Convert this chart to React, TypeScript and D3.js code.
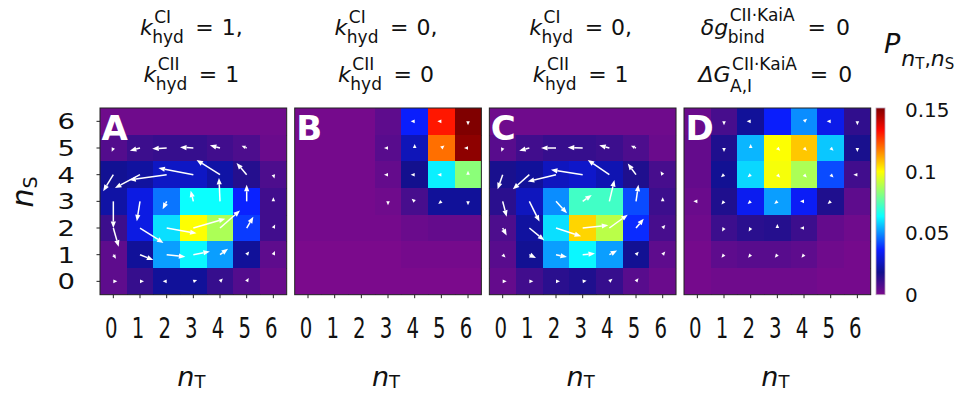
import React from 'react';
import * as d3 from 'd3';

const W = 979, H = 394;
const nTValues = [0, 1, 2, 3, 4, 5, 6];
const nSValues = [6, 5, 4, 3, 2, 1, 0]; // rows top -> bottom
const panelLetters = ['A', 'B', 'C', 'D'];
const cbTicks = [0, 0.05, 0.1, 0.15];
const cbTickLabels = ['0', '0.05', '0.1', '0.15'];
const P_MAX = 0.152;

// probabilities P(nT, nS); rows nS = 6..0, columns nT = 0..6
const probA = [
  [0.002, 0.002, 0.002, 0.002, 0.002, 0.002, 0.002],
  [0.007, 0.011, 0.012, 0.012, 0.010, 0.008, 0.003],
  [0.019, 0.021, 0.027, 0.027, 0.022, 0.015, 0.008],
  [0.022, 0.032, 0.047, 0.064, 0.064, 0.037, 0.010],
  [0.011, 0.032, 0.060, 0.100, 0.088, 0.040, 0.010],
  [0.005, 0.020, 0.052, 0.063, 0.052, 0.020, 0.005],
  [0.005, 0.012, 0.020, 0.020, 0.012, 0.007, 0.003],
];
const probB = [
  [0.001, 0.001, 0.001, 0.005, 0.036, 0.132, 0.152],
  [0.001, 0.001, 0.001, 0.006, 0.025, 0.120, 0.150],
  [0.001, 0.001, 0.001, 0.004, 0.018, 0.062, 0.083],
  [0.001, 0.001, 0.001, 0.002, 0.009, 0.020, 0.020],
  [0.001, 0.001, 0.001, 0.001, 0.003, 0.004, 0.004],
  [0.000, 0.000, 0.000, 0.000, 0.001, 0.001, 0.001],
  [0.000, 0.000, 0.000, 0.000, 0.000, 0.000, 0.000],
];
const probC = [
  [0.002, 0.002, 0.002, 0.002, 0.002, 0.002, 0.002],
  [0.006, 0.010, 0.012, 0.012, 0.011, 0.008, 0.003],
  [0.017, 0.020, 0.026, 0.028, 0.024, 0.016, 0.009],
  [0.014, 0.026, 0.050, 0.072, 0.072, 0.042, 0.011],
  [0.008, 0.021, 0.060, 0.106, 0.090, 0.038, 0.009],
  [0.006, 0.019, 0.052, 0.063, 0.052, 0.019, 0.005],
  [0.004, 0.010, 0.014, 0.016, 0.012, 0.006, 0.003],
];
const probD = [
  [0.003, 0.009, 0.020, 0.036, 0.050, 0.033, 0.013],
  [0.004, 0.016, 0.055, 0.100, 0.108, 0.057, 0.017],
  [0.004, 0.019, 0.059, 0.099, 0.088, 0.042, 0.010],
  [0.003, 0.016, 0.034, 0.052, 0.035, 0.016, 0.005],
  [0.002, 0.011, 0.014, 0.015, 0.011, 0.004, 0.002],
  [0.001, 0.005, 0.006, 0.006, 0.005, 0.002, 0.001],
  [0.001, 0.002, 0.002, 0.002, 0.002, 0.001, 0.001],
];

// probability flux [d nT, d nS] in cell units; rows nS = 6..0, columns nT = 0..6
const fluxA = [
  [[0, 0], [0, 0], [0, 0], [0, 0], [0, 0], [0, 0], [0, 0]],
  [[-0.04, -0.09], [-0.38, -0.1], [-0.54, -0.03], [-0.5, 0.03], [-0.38, 0.1], [-0.19, 0.08], [0, 0]],
  [[-0.38, -0.62], [-0.94, -0.5], [-1.4, -0.2], [-1.31, 0.25], [-0.88, 0.55], [-0.38, 0.44], [0.02, -0.07]],
  [[0, -1.0], [-0.12, -0.75], [-0.15, -0.3], [-0.1, 0.4], [-0.04, 0.88], [0, 0.62], [0, 0.08]],
  [[0.2, -0.7], [0.88, -0.56], [1.12, -0.2], [1.2, 0.35], [0.75, 0.66], [0.25, 0.42], [0.04, 0.08]],
  [[0.1, -0.15], [0.5, -0.2], [0.7, -0.08], [0.62, 0.12], [0.3, 0.22], [0.08, 0.1], [0.03, 0.07]],
  [[0.08, 0], [0.08, 0], [-0.07, 0], [0.06, 0.02], [0.05, 0.05], [0.03, 0.05], [0, 0]],
];
const fluxB = [
  [[0, 0], [0, 0], [0, 0], [0, 0], [-0.08, 0], [-0.08, 0], [0, -0.07]],
  [[0, 0], [0, 0], [0, 0], [-0.08, 0], [0, 0.07], [0.06, 0.05], [-0.08, 0]],
  [[0, 0], [0, 0], [0, 0], [-0.08, 0], [-0.08, 0], [-0.08, 0], [0, 0.07]],
  [[0, 0], [0, 0], [0, 0], [0, -0.07], [-0.06, 0.05], [-0.06, -0.05], [0, -0.07]],
  [[0, 0], [0, 0], [0, 0], [0, 0], [0, 0], [0, 0], [0, 0]],
  [[0, 0], [0, 0], [0, 0], [0, 0], [0, 0], [0, 0], [0, 0]],
  [[0, 0], [0, 0], [0, 0], [0, 0], [0, 0], [0, 0], [0, 0]],
];
const fluxC = [
  [[0, 0], [0, 0], [0, 0], [0, 0], [0, 0], [0, 0], [0, 0]],
  [[-0.03, -0.08], [-0.38, -0.1], [-0.56, 0], [-0.56, 0.02], [-0.38, 0.1], [-0.19, 0.08], [0, 0]],
  [[-0.19, -0.55], [-0.62, -0.55], [-1.06, -0.26], [-1.19, 0.18], [-0.81, 0.55], [-0.31, 0.42], [-0.05, 0.08]],
  [[0.15, -0.58], [0.38, -0.76], [0.41, -0.45], [0.34, 0.24], [0.19, 0.8], [0.09, 0.62], [0, 0.08]],
  [[0.15, -0.28], [0.56, -0.46], [0.94, -0.31], [0.96, 0.1], [0.69, 0.5], [0.29, 0.35], [0.05, 0.06]],
  [[0.09, -0.09], [0.25, -0.12], [0.41, -0.09], [0.46, 0.04], [0.29, 0.16], [0.09, 0.1], [0.05, 0.06]],
  [[0.1, 0], [0.1, 0], [0.08, 0], [0.08, 0.01], [0.05, 0.04], [0.04, 0.05], [0, 0]],
];
const fluxD = [
  [[0, 0], [0, -0.06], [-0.08, 0], [0, 0], [0.06, 0.05], [-0.08, 0], [0, -0.06]],
  [[0, 0], [0, -0.06], [0, 0.07], [0.05, -0.05], [0.05, -0.05], [0.05, -0.05], [0, -0.06]],
  [[0, 0], [-0.06, -0.05], [-0.06, -0.05], [0.05, -0.05], [0.05, -0.05], [0.05, -0.05], [-0.08, 0]],
  [[-0.08, 0], [-0.05, -0.06], [-0.06, -0.05], [-0.06, -0.05], [-0.08, 0], [-0.06, -0.05], [0, 0]],
  [[0, 0], [-0.04, -0.07], [-0.04, -0.07], [0, 0.07], [-0.08, 0], [0, 0], [0, 0]],
  [[0, 0], [-0.05, -0.06], [-0.05, -0.06], [-0.05, -0.06], [-0.05, -0.06], [0, 0], [0, 0]],
  [[0, 0], [0, 0], [0, 0], [0, 0], [0, 0], [0, 0], [0, 0]],
];

const probs = [probA, probB, probC, probD];
const fluxes = [fluxA, fluxB, fluxC, fluxD];

type Piece = { text?: string; italic?: boolean; sup?: string; sub?: string; gap?: number };
const titleLine1: Piece[][] = [
  [{ text: 'k', italic: true }, { sup: 'CI', sub: 'hyd' }, { gap: 11 }, { text: '=' }, { gap: 8 }, { text: '1,' }],
  [{ text: 'k', italic: true }, { sup: 'CI', sub: 'hyd' }, { gap: 11 }, { text: '=' }, { gap: 8 }, { text: '0,' }],
  [{ text: 'k', italic: true }, { sup: 'CI', sub: 'hyd' }, { gap: 11 }, { text: '=' }, { gap: 8 }, { text: '0,' }],
  [{ text: 'δg', italic: true }, { sup: 'CII·KaiA', sub: 'bind' }, { gap: 14 }, { text: '=' }, { gap: 10 }, { text: '0' }],
];
const titleLine2: Piece[][] = [
  [{ text: 'k', italic: true }, { sup: 'CII', sub: 'hyd' }, { gap: 11 }, { text: '=' }, { gap: 8 }, { text: '1' }],
  [{ text: 'k', italic: true }, { sup: 'CII', sub: 'hyd' }, { gap: 11 }, { text: '=' }, { gap: 8 }, { text: '0' }],
  [{ text: 'k', italic: true }, { sup: 'CII', sub: 'hyd' }, { gap: 11 }, { text: '=' }, { gap: 8 }, { text: '1' }],
  [{ text: 'ΔG', italic: true }, { sup: 'CII·KaiA', sub: 'A,I' }, { gap: 14 }, { text: '=' }, { gap: 10 }, { text: '0' }],
];

const FONT = "'DejaVu Sans', sans-serif";
const CW: Record<string, number> = {
  k: 0.579, C: 0.698, I: 0.295, h: 0.634, y: 0.592, d: 0.635, K: 0.656, a: 0.613, i: 0.278,
  A: 0.684, b: 0.635, n: 0.634, '·': 0.318, ',': 0.318, '=': 0.838, '0': 0.636, '1': 0.636,
  g: 0.635, 'δ': 0.612, 'Δ': 0.684, G: 0.775, ' ': 0.318, P: 0.603, T: 0.611, S: 0.635,
};
const textW = (s: string, size: number) => Array.from(s).reduce((a, c) => a + (CW[c] ?? 0.6) * size, 0);

function MathLine({ pieces, cx, y, size = 22, ssize = 17, supDy = -12, subDy = 8 }:
  { pieces: Piece[]; cx: number; y: number; size?: number; ssize?: number; supDy?: number; subDy?: number }) {
  const widths = pieces.map(p => p.gap != null ? p.gap : p.text != null ? textW(p.text, size)
    : Math.max(textW(p.sup || '', ssize), textW(p.sub || '', ssize)));
  const total = d3.sum(widths);
  let x = cx - total / 2;
  const els: any[] = [];
  pieces.forEach((p, i) => {
    if (p.text != null) {
      els.push(<text key={i} x={x} y={y} fontSize={size} fontStyle={p.italic ? 'italic' : 'normal'}>{p.text}</text>);
    } else if (p.sup != null || p.sub != null) {
      if (p.sup) els.push(<text key={i + 's'} x={x + 1.5} y={y + supDy} fontSize={ssize}>{p.sup}</text>);
      if (p.sub) els.push(<text key={i + 'b'} x={x - 0.5} y={y + subDy} fontSize={ssize}>{p.sub}</text>);
    }
    x += widths[i];
  });
  return <g fill="#111">{els}</g>;
}

const CELL = 26.67;
const TOP = 108;
const PANEL_STEP = 194.67;
const LEFT0 = 100;

const colorStops = [0, 0.12, 0.24, 0.42, 0.66, 0.88, 1];
const colorRange = ['#7b0a8c', '#12108e', '#0a1eff', '#0affff', '#ffff00', '#ff0a00', '#800000'];
const color = d3.scaleLinear<string>()
  .domain(colorStops.map(f => f * P_MAX))
  .range(colorRange)
  .interpolate(d3.interpolateRgb)
  .clamp(true);

function arrowPath(x0: number, y0: number, dx: number, dy: number) {
  const L = Math.hypot(dx, dy);
  if (L < 0.5) return null;
  const ux = dx / L, uy = dy / L;
  const nx = -uy, ny = ux;
  const hl = L < 6 ? 4 : 6.5;
  const hw = L < 6 ? 3.6 : 5.2;
  const len = Math.max(L, hl);
  const tx = x0 + ux * len, ty = y0 + uy * len;
  const bx = tx - ux * hl, by = ty - uy * hl;
  return { shaft: len > hl + 0.5 ? [x0, y0, bx, by] : null,
    head: `M${tx},${ty}L${bx + nx * hw / 2},${by + ny * hw / 2}L${bx - nx * hw / 2},${by - ny * hw / 2}Z` };
}

export default function App() {
  const cbX = 876, cbW = 9;
  const cbY = d3.scaleLinear().domain([0, P_MAX]).range([TOP + 7 * CELL, TOP]);
  const gradStops = d3.range(0, 1.0001, 0.02);
  return (
    <svg width={W} height={H} style={{ position: 'absolute', left: 0, top: 0, background: '#fff' }}
      fontFamily={FONT}>
      <defs>
        <linearGradient id="cbgrad" x1="0" y1="1" x2="0" y2="0">
          {gradStops.map((f, i) => <stop key={i} offset={f} stopColor={color(f * P_MAX)} />)}
        </linearGradient>
      </defs>
      {probs.map((grid, p) => {
        const L = LEFT0 + p * PANEL_STEP;
        const x = d3.scaleBand<number>().domain(nTValues).range([L, L + 7 * CELL]);
        const y = d3.scaleBand<number>().domain(nSValues).range([TOP, TOP + 7 * CELL]);
        const cx = L + 3.5 * CELL - 2;
        return (
          <g key={p}>
            <clipPath id={`clip${p}`}>
              <rect x={L} y={TOP} width={7 * CELL} height={7 * CELL} />
            </clipPath>
            <g clipPath={`url(#clip${p})`} shapeRendering="crispEdges">
              {grid.map((row, r) => row.map((v, c) => (
                <rect key={`${r}-${c}`} x={x(nTValues[c])!} y={y(nSValues[r])!} width={x.bandwidth() + 1}
                  height={y.bandwidth() + 1} fill={color(v)} />
              )))}
            </g>
            {fluxes[p].map((row, r) => row.map(([u, v], c) => {
              const a = arrowPath(x(nTValues[c])! + x.bandwidth() / 2, y(nSValues[r])! + y.bandwidth() / 2,
                u * CELL, -v * CELL);
              if (!a) return null;
              return (
                <g key={`a${r}-${c}`}>
                  {a.shaft && <line x1={a.shaft[0]} y1={a.shaft[1]} x2={a.shaft[2]} y2={a.shaft[3]}
                    stroke="#fff" strokeWidth={1.5} />}
                  <path d={a.head} fill="#fff" />
                </g>
              );
            }))}
            <rect x={L} y={TOP} width={7 * CELL} height={7 * CELL} fill="none" stroke="#222" strokeWidth={1} />
            <text x={L + 1.5} y={TOP + 32} fill="#fff" fontSize={34} fontWeight="bold">{panelLetters[p]}</text>
            {nTValues.map(t => (
              <g key={`xt${t}`}>
                <line x1={x(t)! + CELL / 2} x2={x(t)! + CELL / 2} y1={TOP + 7 * CELL} y2={TOP + 7 * CELL + 3.5}
                  stroke="#222" strokeWidth={1} />
                <text transform={`translate(${x(t)! + CELL / 2 - 2},${338}) scale(0.68,1)`} textAnchor="middle"
                  fontSize={29} fill="#111">{t}</text>
              </g>
            ))}
            {p === 0 && nSValues.map(s => (
              <g key={`yt${s}`}>
                <line x1={L - 3.5} x2={L} y1={y(s)! + CELL / 2} y2={y(s)! + CELL / 2} stroke="#222" strokeWidth={1} />
                <text transform={`translate(${75},${y(s)! + CELL / 2 + 8}) scale(1.25,1)`} textAnchor="end"
                  fontSize={22} fill="#111">{s}</text>
              </g>
            ))}
            <MathLine pieces={titleLine1[p]} cx={cx} y={35} supDy={p === 3 ? -14 : -12} subDy={8} />
            <MathLine pieces={titleLine2[p]} cx={cx} y={82} supDy={-12} subDy={p === 3 ? 10 : 8} />
            <text x={cx} y={386} textAnchor="middle" fill="#111">
              <tspan fontSize={27} fontStyle="italic">n</tspan>
              <tspan fontSize={18} dy={2}>T</tspan>
            </text>
          </g>
        );
      })}
      <text transform={`translate(${33},${192}) rotate(-90)`} textAnchor="middle" fill="#111">
        <tspan fontSize={30} fontStyle="italic">n</tspan>
        <tspan fontSize={19} dy={4}>S</tspan>
      </text>
      <rect x={cbX} y={TOP} width={cbW} height={7 * CELL} fill="url(#cbgrad)" stroke="#b8a0b8" strokeWidth={0.8} />
      {cbTicks.map((t, i) => (
        <text key={i} x={905} y={cbY(t) + 7} fontSize={20} fill="#111">{cbTickLabels[i]}</text>
      ))}
      <text x={884} y={53} fill="#111">
        <tspan fontSize={27} fontStyle="italic">P</tspan>
        <tspan fontSize={22} fontStyle="italic" dy={13} dx={1}>n</tspan>
        <tspan fontSize={15} dy={3}>T</tspan>
        <tspan fontSize={20} dy={-3}>,</tspan>
        <tspan fontSize={22} fontStyle="italic">n</tspan>
        <tspan fontSize={15} dy={3}>S</tspan>
      </text>
    </svg>
  );
}
